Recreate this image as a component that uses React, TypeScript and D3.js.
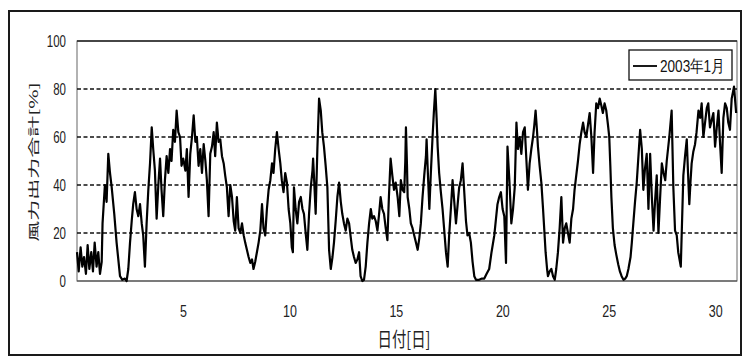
import React from "react";
import * as d3 from "d3";

// time in days since 2003-01-01 00:00 (hourly wind output)
const dayTimes: number[] = [
  0.0, 0.08, 0.17, 0.25, 0.33, 0.42, 0.5, 0.58, 0.67, 0.75, 0.83, 0.92, 1.0, 1.08, 1.16,
  1.2, 1.31, 1.39, 1.47, 1.55, 1.63, 1.75, 1.86, 2.02, 2.13, 2.25, 2.33, 2.41, 2.49, 2.57,
  2.64, 2.72, 2.8, 2.88, 2.96, 3.04, 3.11, 3.19, 3.27, 3.35, 3.43, 3.51, 3.58, 3.66, 3.74,
  3.82, 3.9, 3.97, 4.05, 4.13, 4.21, 4.29, 4.37, 4.44, 4.52, 4.6, 4.68, 4.76, 4.84, 4.91,
  4.99, 5.09, 5.16, 5.24, 5.32, 5.4, 5.48, 5.56, 5.63, 5.71, 5.79, 5.87, 5.95, 6.03, 6.1,
  6.18, 6.26, 6.34, 6.42, 6.49, 6.57, 6.65, 6.73, 6.81, 6.89, 6.96, 7.04, 7.12, 7.2, 7.28,
  7.36, 7.43, 7.51, 7.59, 7.67, 7.75, 7.83, 7.9, 7.98, 8.06, 8.14, 8.22, 8.29, 8.37, 8.45,
  8.53, 8.61, 8.69, 8.76, 8.84, 8.92, 9.0, 9.08, 9.16, 9.23, 9.31, 9.39, 9.47, 9.55, 9.62,
  9.7, 9.78, 9.86, 9.94, 10.02, 10.09, 10.14, 10.19, 10.27, 10.35, 10.43, 10.51, 10.59, 10.66, 10.74,
  10.82, 10.9, 10.98, 11.06, 11.09, 11.15, 11.21, 11.29, 11.37, 11.45, 11.52, 11.6, 11.68, 11.76, 11.84,
  11.92, 12.0, 12.07, 12.15, 12.23, 12.31, 12.39, 12.46, 12.54, 12.62, 12.7, 12.78, 12.86, 12.93, 13.01,
  13.09, 13.17, 13.25, 13.32, 13.4, 13.48, 13.56, 13.64, 13.72, 13.8, 13.87, 13.95, 14.03, 14.11, 14.19,
  14.26, 14.34, 14.42, 14.5, 14.58, 14.65, 14.73, 14.81, 14.89, 14.97, 15.06, 15.14, 15.21, 15.29, 15.37,
  15.42, 15.45, 15.5, 15.53, 15.61, 15.68, 15.76, 15.84, 15.92, 16.0, 16.08, 16.15, 16.23, 16.31, 16.39,
  16.42, 16.48, 16.55, 16.62, 16.7, 16.76, 16.83, 16.89, 16.94, 17.01, 17.09, 17.17, 17.25, 17.33, 17.41,
  17.48, 17.56, 17.64, 17.72, 17.8, 17.88, 17.95, 18.03, 18.11, 18.19, 18.27, 18.34, 18.42, 18.5, 18.58,
  18.66, 18.74, 18.89, 19.02, 19.13, 19.24, 19.36, 19.47, 19.6, 19.68, 19.75, 19.83, 19.91, 19.99, 20.07,
  20.15, 20.22, 20.32, 20.4, 20.48, 20.56, 20.64, 20.71, 20.79, 20.87, 20.95, 21.03, 21.11, 21.18, 21.26,
  21.34, 21.42, 21.48, 21.54, 21.61, 21.65, 21.73, 21.81, 21.89, 21.97, 22.01, 22.08, 22.12, 22.2, 22.28,
  22.36, 22.44, 22.51, 22.59, 22.67, 22.75, 22.83, 22.91, 22.98, 23.06, 23.14, 23.22, 23.3, 23.37, 23.45,
  23.53, 23.61, 23.69, 23.77, 23.84, 23.92, 24.0, 24.08, 24.16, 24.24, 24.31, 24.39, 24.47, 24.55, 24.63,
  24.7, 24.78, 24.86, 24.94, 25.0, 25.05, 25.1, 25.17, 25.25, 25.33, 25.42, 25.5, 25.58, 25.67, 25.75,
  25.82, 25.9, 26.0, 26.06, 26.13, 26.21, 26.29, 26.37, 26.45, 26.53, 26.6, 26.68, 26.76, 26.84, 26.92,
  27.0, 27.08, 27.15, 27.23, 27.31, 27.39, 27.47, 27.55, 27.63, 27.7, 27.82, 27.93, 28.01, 28.09, 28.17,
  28.24, 28.36, 28.48, 28.56, 28.64, 28.7, 28.76, 28.82, 28.87, 28.95, 29.03, 29.1, 29.19, 29.27, 29.34,
  29.42, 29.5, 29.58, 29.65, 29.73, 29.81, 29.89, 29.97, 30.05, 30.13, 30.2, 30.28, 30.36, 30.44, 30.52,
  30.59, 30.67, 30.75, 30.86, 30.96,
];

// total wind output [%]
const outputPct: number[] = [
  12, 4, 14, 6, 10, 3, 15, 5, 12, 4, 16, 6, 12, 3, 8,
  24, 40, 33, 53, 45, 39, 28, 16, 2, 0.5, 1, 0, 5, 16, 25,
  32, 37, 30, 27, 32, 24, 19, 6, 24, 38, 49, 64, 55, 46, 26,
  40, 51, 38, 27, 42, 52, 45, 55, 50, 63, 58, 71, 62, 60, 48,
  51, 46, 55, 35, 53, 60, 69, 58, 60, 48, 55, 45, 57, 50, 42,
  27, 53, 56, 62, 52, 66, 58, 59, 52, 49, 44, 39, 27, 40, 35,
  25, 21, 35, 22, 20, 24, 19, 16, 13, 10, 7.5, 9, 5, 8, 12,
  16, 21, 32, 22, 19, 30, 38, 42, 49, 45, 55, 62, 55, 49, 42,
  37, 45, 41, 30, 24, 14, 12, 39, 30, 24, 33, 35, 30, 28, 20,
  13, 28, 39, 46, 51, 40, 28, 55, 76, 71, 62, 56, 48, 39, 13,
  5, 10, 16, 25, 35, 41, 33, 28, 24, 21, 26, 24, 18, 13, 10,
  7.5, 9, 12, 2, 0, 0.5, 6, 16, 24, 30, 26, 27, 25, 21, 28,
  35, 30, 28, 22, 17, 35, 51, 44, 38, 41, 35, 27, 42, 38, 37,
  50, 64, 48, 35, 30, 24, 22, 19, 16, 13, 18, 24, 35, 44, 52,
  59, 45, 30, 45, 60, 70, 80, 68, 56, 45, 37, 30, 21, 12, 6,
  19, 30, 42, 33, 24, 32, 39, 42, 49, 37, 25, 19, 20, 16, 8,
  2, 0.5, 0.5, 1, 1, 3, 5, 12, 19, 26, 32, 35, 37, 30, 27,
  7.5, 56, 40, 24, 30, 39, 66, 55, 60, 53, 62, 64, 50, 38, 49,
  55, 60, 65, 71, 62, 56, 48, 41, 30, 18, 12, 5, 2, 4, 5,
  2, 0.5, 5, 12, 22, 35, 16, 22, 24, 20, 16, 26, 30, 38, 44,
  50, 57, 62, 66, 62, 60, 65, 70, 60, 45, 62, 74, 72, 76, 73,
  70, 74, 71, 65, 60, 48, 35, 22, 15, 11, 7, 4, 2, 0.5, 1,
  2, 5, 10, 16, 24, 33, 41, 52, 63, 55, 38, 47, 53, 30, 53,
  35, 21, 33, 44, 20, 35, 49, 45, 42, 50, 60, 71, 39, 21, 19,
  12, 6, 44, 52, 59, 45, 32, 42, 49, 54, 57, 62, 71, 68, 74,
  60, 66, 72, 74, 64, 67, 70, 56, 64, 71, 58, 45, 68, 74, 72,
  66, 63, 76, 81, 70,
];

const yTicks: number[] = [0, 20, 40, 60, 80, 100];
const gridValues: number[] = [20, 40, 60, 80];
const xTicks: number[] = [5, 10, 15, 20, 25, 30];
const legendLabel = "2003年1月";
const xTitle = "日付[日]";
const yTitle = "風力出力合計[%]";

export default function App() {
  const W = 744;
  const H = 359;
  const left = 77, right = 737, top = 41, bottom = 281;
  const x = d3.scaleLinear().domain([0, 31]).range([left, right]);
  const y = d3.scaleLinear().domain([0, 100]).range([bottom, top]);
  const pts: [number, number][] = dayTimes.map((t, i) => [t, outputPct[i]]);
  const line = d3
    .line<[number, number]>()
    .x((d) => x(d[0]))
    .y((d) => y(d[1]));
  const font = "'Liberation Sans', Arial, sans-serif";
  const cjk = "'Noto Sans CJK JP', 'Noto Sans CJK SC', sans-serif";

  return (
    <svg
      width={W}
      height={H}
      style={{ position: "absolute", left: 0, top: 0, background: "#fff" }}
    >
      <rect x={0} y={0} width={W} height={H} fill="#fff" />
      <rect x={9} y={11} width={732} height={344} fill="none" stroke="#1a1a1a" strokeWidth={2} />
      {/* plot frame */}
      <rect x={left} y={top} width={right - left} height={bottom - top} fill="none" stroke="#666" strokeWidth={1} />
      {gridValues.map((v) => (
        <line
          key={v}
          x1={left}
          x2={right}
          y1={y(v)}
          y2={y(v)}
          stroke="#111"
          strokeWidth={1.3}
          strokeDasharray="4,2.5"
        />
      ))}
      <line x1={left} x2={right} y1={y(100)} y2={y(100)} stroke="#222" strokeWidth={1.5} />
      <line x1={left} x2={right} y1={y(0)} y2={y(0)} stroke="#444" strokeWidth={1.2} />
      {/* data */}
      <path
        d={line(pts) || ""}
        fill="none"
        stroke="#000"
        strokeWidth={2.2}
        strokeLinejoin="round"
      />
      {/* y tick labels */}
      {yTicks.map((v) => (
        <text
          key={v}
          transform={`translate(66,${y(v) + 5.5}) scale(0.72,1)`}
          textAnchor="end"
          fontFamily={font}
          fontSize={16}
          fill="#222"
        >
          {v}
        </text>
      ))}
      {/* x tick labels */}
      {xTicks.map((v) => (
        <text
          key={v}
          transform={`translate(${x(v)},317) scale(0.78,1)`}
          textAnchor="middle"
          fontFamily={font}
          fontSize={16}
          fill="#222"
        >
          {v}
        </text>
      ))}
      {/* x title */}
      <text
        transform={`translate(404,347) scale(0.72,1)`}
        textAnchor="middle"
        fontFamily={cjk}
        fontSize={20}
        fill="#222"
      >
        {xTitle}
      </text>
      {/* y title */}
      <text
        transform={`translate(38,162) scale(0.55,1) rotate(-90)`}
        textAnchor="middle"
        fontFamily={cjk}
        fontSize={21}
        fill="#222"
      >
        {yTitle}
      </text>
      {/* legend */}
      <rect x={629} y={50} width={103} height={30} fill="#fff" stroke="#111" strokeWidth={1.3} />
      <line x1={633} x2={657} y1={66} y2={66} stroke="#000" strokeWidth={1.8} />
      <text
        transform={`translate(660,72) scale(0.8,1)`}
        fontFamily={font}
        fontSize={17}
        fill="#111"
      >
        {legendLabel}
      </text>
    </svg>
  );
}
